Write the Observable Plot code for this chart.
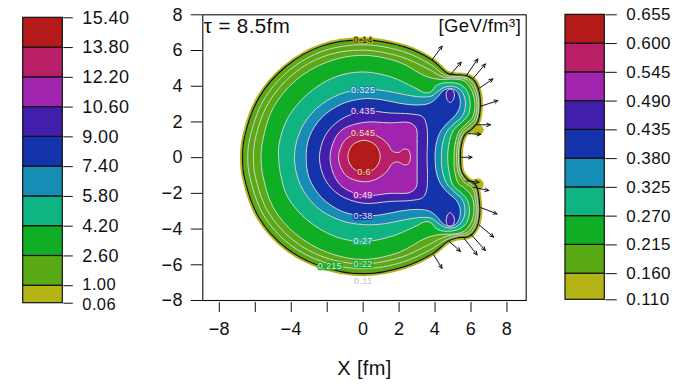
<!DOCTYPE html>
<html>
<head>
<meta charset="utf-8">
<script src="https://cdn.jsdelivr.net/npm/d3@7"></script>
<script src="https://cdn.jsdelivr.net/npm/@observablehq/plot@0.6"></script>
<style>
  body { margin: 0; background: #fff; }
  #wrap { position: relative; width: 677px; height: 384px; overflow: hidden; }
  #wrap > div { position: absolute; top: 0; }
  svg { overflow: visible; }
</style>
</head>
<body>
<div id="wrap">
  <div id="barLeft" style="left:0"></div>
  <div id="main" style="left:140px"></div>
  <div id="barRight" style="left:540px"></div>
</div>
<script>
// Band colours, lowest to highest
const palette = ["#b4b416", "#5aaa16", "#10ae25", "#10b382", "#168db4", "#1533aa", "#421fab", "#a024ae", "#b91f66", "#b41a1a"];

// Energy density bands [GeV/fm^3] (right bar) and the companion scale (left bar)
const densityTicks = [0.110, 0.160, 0.215, 0.270, 0.325, 0.380, 0.435, 0.490, 0.545, 0.600, 0.655];
const leftTicks = [0.06, 1.00, 2.60, 4.20, 5.80, 7.40, 9.00, 10.60, 12.20, 13.80, 15.40];

// Axis ticks
const xTickMarks = [-8, -6, -4, -2, 0, 2, 4, 6, 8];
const xTickLabels = [-8, -4, 0, 2, 4, 6, 8];
const yTicks = [-8, -6, -4, -2, 0, 2, 4, 6, 8];

// Contour outlines (x, y in fm), each a closed ring
const ring160 = [[5.41,0],[5.47,0.75],[5.68,1.3],[6.05,1.6],[6.38,2.0],[6.52,2.8],[6.47,3.6],[6.2,4.3],[5.8,4.58],[5.1,4.65],[4.7,4.72],[3.85,5.45],[2.3,6.2],[0,6.6],[-2.3,6.25],[-4.3,5.1],[-5.8,3.35],[-6.6,1.15],[-6.71,0],[-6.6,-1.15],[-5.8,-3.35],[-4.3,-5.05],[-2.3,-6.1],[0,-6.5],[2.3,-6.1],[3.9,-5.35],[4.7,-4.7],[5.2,-4.5],[5.9,-4.4],[6.3,-3.95],[6.48,-3.2],[6.45,-2.3],[6.28,-1.55],[5.8,-1.2],[5.5,-0.8]];
const ring175 = [[5.3,0],[5.36,0.78],[5.58,1.38],[5.95,1.7],[6.28,2.08],[6.42,2.8],[6.37,3.55],[6.1,4.2],[5.75,4.48],[5.1,4.55],[4.6,4.6],[3.7,5.25],[2.2,5.95],[0,6.32],[-2.2,5.98],[-4.1,4.9],[-5.55,3.2],[-6.3,1.1],[-6.42,0],[-6.3,-1.1],[-5.55,-3.2],[-4.1,-4.85],[-2.2,-5.85],[0,-6.22],[2.2,-5.85],[3.75,-5.15],[4.6,-4.6],[5.2,-4.4],[5.85,-4.3],[6.2,-3.9],[6.38,-3.2],[6.35,-2.3],[6.18,-1.65],[5.72,-1.3],[5.4,-0.82]];
const ring195 = [[5.2,0],[5.26,0.8],[5.48,1.45],[5.85,1.8],[6.18,2.15],[6.33,2.8],[6.27,3.5],[6.02,4.1],[5.7,4.4],[5.05,4.47],[4.5,4.5],[3.55,5.0],[2.1,5.65],[0,6.02],[-2.1,5.7],[-3.9,4.68],[-5.28,3.05],[-6.0,1.05],[-6.1,0],[-6.0,-1.05],[-5.28,-3.05],[-3.9,-4.62],[-2.1,-5.6],[0,-5.95],[2.1,-5.58],[3.6,-4.9],[4.5,-4.45],[5.15,-4.3],[5.78,-4.2],[6.1,-3.82],[6.28,-3.2],[6.25,-2.35],[6.08,-1.72],[5.64,-1.4],[5.3,-0.85]];
const ring215 = [[5.05,0],[5.12,0.8],[5.35,1.5],[5.75,1.9],[6.08,2.25],[6.22,2.85],[6.15,3.45],[5.93,3.95],[5.6,4.3],[5.0,4.4],[4.3,4.38],[3.5,4.55],[2.0,5.35],[0,5.73],[-2.0,5.36],[-3.75,4.33],[-5.0,2.8],[-5.58,1.0],[-5.68,0],[-5.58,-1.0],[-5.0,-2.8],[-3.75,-4.28],[-2.0,-5.3],[0,-5.7],[2.0,-5.3],[3.5,-4.5],[4.3,-4.3],[5.0,-4.28],[5.55,-4.15],[5.9,-3.82],[6.12,-3.3],[6.15,-2.6],[6.0,-2.1],[5.65,-1.72],[5.3,-1.45],[5.1,-0.8]];
const ring270 = [[4.7,0],[4.78,0.8],[5.0,1.5],[5.45,1.95],[5.82,2.35],[5.95,2.85],[5.9,3.4],[5.7,3.85],[5.35,4.12],[4.8,4.2],[4.3,4.15],[4.0,3.98],[3.85,3.75],[3.5,3.62],[2.8,3.95],[1.6,4.5],[0,4.8],[-1.6,4.5],[-3.1,3.55],[-4.2,2.2],[-4.67,0.8],[-4.7,0],[-4.6,-0.9],[-4.2,-2.2],[-3.1,-3.5],[-1.6,-4.4],[0,-4.7],[1.6,-4.4],[2.8,-3.9],[3.5,-3.58],[3.85,-3.7],[4.0,-3.92],[4.3,-4.08],[4.8,-4.12],[5.3,-4.02],[5.68,-3.75],[5.88,-3.3],[5.9,-2.75],[5.75,-2.3],[5.4,-1.92],[5.0,-1.55],[4.78,-0.8]];
const ring325 = [[4.35,0],[4.42,0.8],[4.65,1.45],[5.05,1.9],[5.5,2.3],[5.68,2.8],[5.65,3.35],[5.45,3.75],[5.05,3.98],[4.55,3.95],[4.15,3.7],[3.8,3.45],[3.2,3.4],[2.2,3.55],[1.2,3.75],[0,3.81],[-1.3,3.55],[-2.6,2.75],[-3.5,1.5],[-3.82,0],[-3.5,-1.5],[-2.6,-2.75],[-1.3,-3.5],[0,-3.75],[1.2,-3.7],[2.2,-3.5],[3.2,-3.35],[3.8,-3.4],[4.15,-3.65],[4.55,-3.9],[5.05,-3.92],[5.4,-3.7],[5.62,-3.3],[5.65,-2.75],[5.48,-2.3],[5.05,-1.9],[4.65,-1.45],[4.42,-0.8]];
const ring380 = [[4.0,0],[4.07,0.8],[4.3,1.45],[4.7,1.95],[5.15,2.4],[5.38,2.85],[5.38,3.35],[5.2,3.72],[4.85,3.88],[4.45,3.75],[4.1,3.35],[3.7,3.05],[3.0,2.95],[2.0,3.05],[1.0,3.25],[0,3.3],[-1.2,3.0],[-2.3,2.25],[-3.0,1.15],[-3.17,0],[-3.0,-1.15],[-2.3,-2.25],[-1.2,-3.0],[0,-3.25],[1.0,-3.2],[2.0,-3.0],[3.0,-2.9],[3.7,-3.0],[4.1,-3.3],[4.45,-3.7],[4.85,-3.85],[5.2,-3.68],[5.38,-3.3],[5.38,-2.8],[5.15,-2.35],[4.7,-1.95],[4.3,-1.45],[4.07,-0.8]];
const blobUpper = [[4.62,3.62],[4.75,3.82],[4.98,3.78],[5.08,3.52],[4.98,3.2],[4.82,3.08],[4.68,3.25]];
const blobLower = [[4.62,-3.62],[4.68,-3.25],[4.82,-3.08],[4.98,-3.2],[5.08,-3.52],[4.98,-3.78],[4.75,-3.82]];
const ring435 = [[3.55,0],[3.58,1.0],[3.52,1.85],[3.3,2.3],[2.6,2.45],[1.5,2.5],[0,2.6],[-1.3,2.1],[-2.1,1.25],[-2.43,0],[-2.1,-1.25],[-1.3,-2.1],[0,-2.55],[1.5,-2.45],[2.6,-2.4],[3.3,-2.25],[3.52,-1.85],[3.58,-1.0]];
const ring490 = [[3.0,0],[3.0,0.9],[2.95,1.65],[2.6,1.95],[1.5,1.95],[0,1.97],[-1.3,1.45],[-1.84,0],[-1.3,-1.5],[0,-2.1],[1.5,-2.0],[2.6,-1.95],[2.95,-1.65],[3.0,-0.9]];
const ring545 = [[2.63,0.05],[2.52,0.42],[2.25,0.48],[2.0,0.3],[1.65,0.35],[1.3,0.85],[0.7,1.25],[0,1.37],[-0.95,1.05],[-1.37,0],[-0.95,-1.0],[0,-1.35],[0.7,-1.22],[1.3,-0.8],[1.65,-0.3],[2.0,-0.25],[2.25,-0.4],[2.52,-0.35]];
const ring600 = [[0.95,0.07],[0.69,0.71],[0.05,0.97],[-0.59,0.71],[-0.85,0.07],[-0.59,-0.57],[0.05,-0.83],[0.69,-0.57]];

// Low-density pockets just outside the notch corners
const rimUpper = [[6.05,1.75],[6.45,1.85],[6.68,1.55],[6.5,1.3],[6.1,1.4]];
const rimLower = [[6.05,-1.7],[6.5,-1.78],[6.68,-1.45],[6.45,-1.2],[6.05,-1.3]];

// Each ring with the density it encloses (drawn outermost first)
const rings = [ring160, ring175, ring195, ring215, ring270, ring325, ring380, blobUpper, blobLower, ring435, ring490, ring545, ring600];
const ringLevels = [0.160, 0.175, 0.195, 0.215, 0.270, 0.325, 0.380, 0.440, 0.440, 0.435, 0.490, 0.545, 0.600];

// Flow vectors on the freeze-out boundary
const arrowFromX = [3.84, 4.86, 5.74, 6.10, 6.40, 6.52, 6.30, 5.87, 5.41, 5.75, 6.15, 6.55, 6.43, 6.00, 5.60, 4.80, 3.93];
const arrowFromY = [5.48, 4.65, 4.60, 4.41, 3.85, 2.87, 1.84, 1.35, 0.02, -1.30, -1.66, -2.80, -3.75, -4.30, -4.50, -4.70, -5.45];
const arrowToX = [4.39, 5.45, 6.38, 6.80, 7.22, 7.50, 7.08, 6.55, 6.06, 6.45, 6.99, 7.45, 7.26, 6.80, 6.34, 5.41, 4.39];
const arrowToY = [6.25, 5.35, 5.53, 5.25, 4.41, 3.20, 1.84, 1.30, 0.02, -1.38, -1.84, -3.15, -4.45, -5.20, -5.45, -5.25, -6.20];

// Contour labels
const labelText = ["0.325", "0.435", "0.545", "0.6", "0.49", "0.38", "0.27", "0.22", "0.215"];
const labelValue = [0.325, 0.435, 0.545, 0.6, 0.49, 0.38, 0.27, 0.22, 0.215];
const labelX = [0, 0, 0, 0.05, 0, 0, 0, 0, -1.85];
const labelY = [3.81, 2.6, 1.37, -0.83, -2.1, -3.25, -4.7, -5.95, -6.05];
const edgeLabelText = ["0.14", "0.11"];
const edgeLabelX = [0, 0];
const edgeLabelY = [6.58, -6.9];

const fontFamily = "'Liberation Sans', Arial, Helvetica, sans-serif";
const curve = "catmull-rom-closed";
const olive = palette[0];

const ringRows = rings.flatMap((ring, k) => ring.map(([x, y]) => ({x, y, level: ringLevels[k], ring: k})));
const rimRows = [rimUpper, rimLower].flatMap((ring, k) => ring.map(([x, y]) => ({x, y, ring: k})));
const arrows = arrowFromX.map((x, i) => ({x1: x, y1: arrowFromY[i], x2: arrowToX[i], y2: arrowToY[i]}));
const labels = labelText.map((t, i) => ({t, v: labelValue[i], x: labelX[i], y: labelY[i]}));
const edgeLabels = edgeLabelText.map((t, i) => ({t, x: edgeLabelX[i], y: edgeLabelY[i]}));
const fmt = d => (d < 0 ? "\u2212" + (-d) : String(d));

const main = Plot.plot({
  width: 400, height: 384,
  marginLeft: 62.3, marginRight: 14.3, marginTop: 14.3, marginBottom: 84,
  x: {domain: [-8.92, 9.07], axis: null},
  y: {domain: [-8, 8], axis: null},
  color: {type: "threshold", domain: densityTicks.slice(1, -1), range: palette},
  style: {fontFamily, background: "transparent", color: "#111", letterSpacing: "0.4px"},
  marks: [
    // thin low-density rim outside the boundary
    Plot.line(ring160, {x: d => d[0], y: d => d[1], curve, fill: olive, stroke: olive, strokeWidth: 5}),
    Plot.line(rimRows, {x: "x", y: "y", z: "ring", curve, fill: olive, stroke: olive, strokeWidth: 1}),
    // filled density bands with light contour lines
    Plot.line(ringRows, {x: "x", y: "y", z: "ring", fill: "level", stroke: "#d2d2d2", strokeWidth: 1, curve}),
    // freeze-out boundary
    Plot.line(ring160, {x: d => d[0], y: d => d[1], curve, stroke: "#111", strokeWidth: 1.2}),
    Plot.arrow(arrows, {x1: "x1", y1: "y1", x2: "x2", y2: "y2", stroke: "#111", strokeWidth: 1, headLength: 6, headAngle: 50}),
    Plot.text(labels, {x: "x", y: "y", text: "t", fill: "#e8e8e8", stroke: "v", strokeWidth: 2.5, fontSize: 9, letterSpacing: 0}),
    Plot.text(edgeLabels.slice(0, 1), {x: "x", y: "y", text: "t", fill: "#222", stroke: olive, strokeWidth: 2, fontSize: 9}),
    Plot.text(edgeLabels.slice(1), {x: "x", y: "y", text: "t", fill: "#c4c4c4", fontSize: 9}),
    Plot.frame({stroke: "#111", strokeWidth: 1.1}),
    // left axis
    Plot.ruleY(yTicks, {y: d => d, x1: -8.92, x2: -8.92, insetLeft: -11.5, stroke: "#111"}),
    Plot.text(yTicks, {y: d => d, text: fmt, frameAnchor: "left", textAnchor: "end", dx: -20, fontSize: 18}),
    // bottom axis: ticks hang just below the frame
    Plot.ruleX(xTickMarks, {x: d => d, y1: -8, y2: -8, insetTop: 2, insetBottom: -12, stroke: "#111"}),
    Plot.text(xTickLabels, {x: d => d, text: fmt, frameAnchor: "bottom", lineAnchor: "top", dy: 22, fontSize: 18}),
    Plot.text(["\u03c4 = 8.5fm"], {frameAnchor: "top-left", textAnchor: "start", lineAnchor: "top", dx: 1, dy: 4, fontSize: 20.5}),
    Plot.text(["[GeV/fm\u00b3]"], {frameAnchor: "top-right", textAnchor: "end", lineAnchor: "top", dx: -5, dy: 4, fontSize: 18.5}),
    Plot.text(["X [fm]"], {frameAnchor: "bottom", lineAnchor: "middle", dy: 68, fontSize: 20})
  ]
});
document.getElementById("main").append(main);

// Vertical colour bar: one box per band, ticks and labels on the right
function colorBar({ticks, digits, width, marginLeft, marginRight, marginTop, marginBottom, tickSize, labelOffset, fontSize, crowded}) {
  const f = d => d.toFixed(digits);
  const plain = ticks.filter(v => !crowded.includes(v));
  const marks = [
    Plot.rect(d3.range(ticks.length - 1), {y1: i => ticks[i], y2: i => ticks[i + 1], fill: i => palette[i], stroke: "#111", strokeWidth: 1.2}),
    Plot.axisY(ticks, {anchor: "right", tickSize, tickFormat: () => "", label: null}),
    Plot.text(plain, {y: d => d, text: f, frameAnchor: "right", textAnchor: "start", dx: labelOffset, fontSize})
  ];
  // the two closely spaced bottom labels are set slightly smaller and eased apart
  if (crowded.length === 2) {
    marks.push(Plot.text([crowded[0]], {y: d => d, text: f, frameAnchor: "right", textAnchor: "start", dx: labelOffset, dy: 2, fontSize: fontSize - 1.5}));
    marks.push(Plot.text([crowded[1]], {y: d => d, text: f, frameAnchor: "right", textAnchor: "start", dx: labelOffset, dy: -1, fontSize: fontSize - 1.5}));
  }
  return Plot.plot({
    width, height: 384, marginLeft, marginRight, marginTop, marginBottom,
    y: {domain: [ticks[0], ticks[ticks.length - 1]], axis: null},
    style: {fontFamily, background: "transparent", color: "#111", letterSpacing: "0.4px"},
    marks
  });
}

document.getElementById("barLeft").append(colorBar({
  ticks: leftTicks, digits: 2, width: 140,
  marginLeft: 22.7, marginRight: 77.7, marginTop: 17.3, marginBottom: 81.3,
  tickSize: 9.5, labelOffset: 19.5, fontSize: 18, crowded: [leftTicks[0], leftTicks[1]]
}));
document.getElementById("barRight").append(colorBar({
  ticks: densityTicks, digits: 3, width: 137,
  marginLeft: 25, marginRight: 72.7, marginTop: 14.3, marginBottom: 84.7,
  tickSize: 11.5, labelOffset: 21.5, fontSize: 17, crowded: []
}));
</script>
</body>
</html>
